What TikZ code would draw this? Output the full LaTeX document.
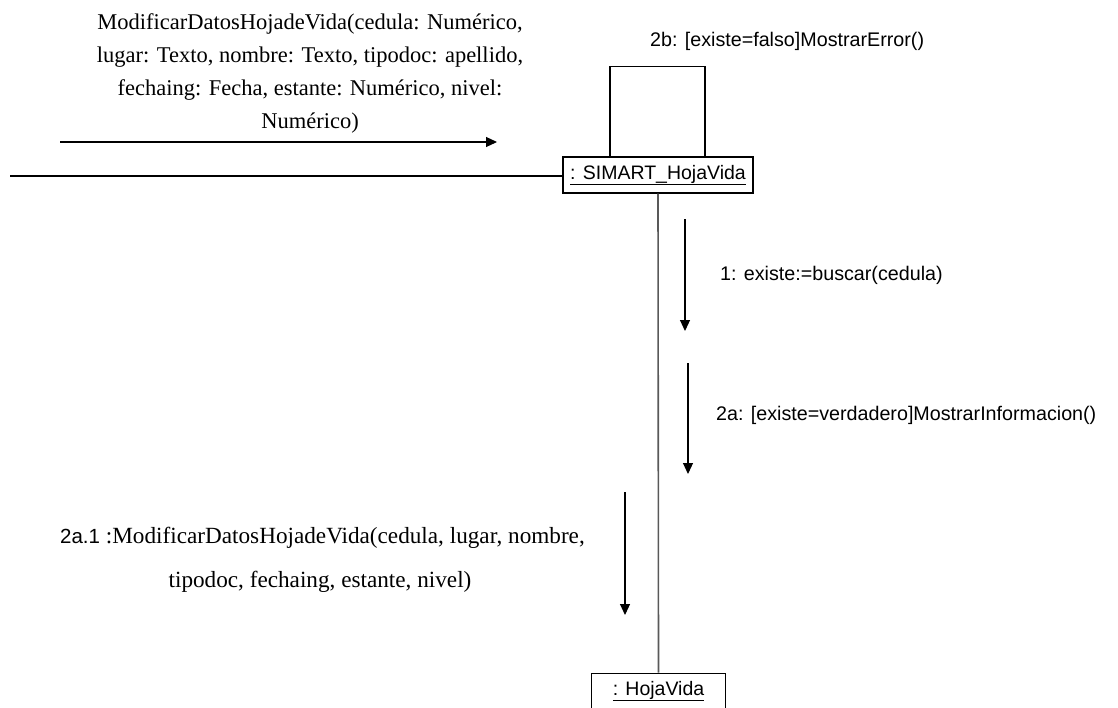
\documentclass[tikz,border=0pt]{standalone}
\usepackage{fontspec}
\setmainfont{Liberation Serif}
\newfontfamily\arialf{Liberation Sans}
\usetikzlibrary{arrows.meta}
\begin{document}
\begin{tikzpicture}[x=1pt,y=-1pt,
  objbox/.style={draw,line width=1.2pt,inner sep=0pt,font=\arialf\fontsize{19.5}{22}\selectfont},
  link/.style={line width=1.1pt},
  lifeline/.style={line width=1.6pt,draw=black!65},
  msg/.style={line width=1.1pt,-{Triangle[width=10pt,length=11pt]}},
  sanslbl/.style={font=\arialf\fontsize{19.7}{22}\selectfont,inner sep=0pt},
  seriflbl/.style={font=\fontsize{22.5}{33}\selectfont,inner sep=0pt,align=center}]
\useasboundingbox (0,0) rectangle (1118,707);

% objects
\node[objbox,minimum width=190pt,minimum height=36pt] (simart) at (658,175) {\underline{: SIMART\_HojaVida}};
\node[objbox,minimum width=134pt,minimum height=36pt,anchor=north] (hoja) at (658.5,672.5) {\underline{: HojaVida}};

% links
\coordinate (leftend) at (10,176);
\draw[link] (leftend) -- (simart.west |- leftend);
\draw[link] ([xshift=-48pt]simart.north) -- ++(0,-90) -| ([xshift=47pt]simart.north);
\draw[lifeline] (simart.south) -- (hoja.north);

% message arrows
\coordinate (m0a) at (60,142);   \coordinate (m0b) at (497,142);
\coordinate (m1a) at (685,219);  \coordinate (m1b) at (685,331);
\coordinate (m2a) at (688,363);  \coordinate (m2b) at (688,474);
\coordinate (m3a) at (625,492);  \coordinate (m3b) at (625,615);
\draw[msg] (m0a) -- (m0b);
\draw[msg] (m1a) -- (m1b);
\draw[msg] (m2a) -- (m2b);
\draw[msg] (m3a) -- (m3b);

% labels
\node[seriflbl] (l0) at (310,73) {ModificarDatosHojadeVida(cedula: Numérico,\\lugar: Texto, nombre: Texto, tipodoc: apellido,\\fechaing: Fecha, estante: Numérico, nivel:\\Numérico)};
\node[sanslbl,anchor=base west] (l2b) at (650,46) {2b: [existe=falso]MostrarError()};
\node[sanslbl,anchor=base west] (l1) at (720,280) {1: existe:=buscar(cedula)};
\node[sanslbl,anchor=base west] (l2a) at (716,420) {2a: [existe=verdadero]MostrarInformacion()};
\node[inner sep=0pt,anchor=base west,font=\fontsize{23.2}{26}\selectfont] (l21) at (60,543) {{\arialf\fontsize{20.5}{22}\selectfont 2a.1} :ModificarDatosHojadeVida(cedula, lugar, nombre,};
\node[inner sep=0pt,anchor=base,font=\fontsize{23.2}{26}\selectfont] (l21b) at (320,587) {tipodoc, fechaing, estante, nivel)};
\end{tikzpicture}
\end{document}
